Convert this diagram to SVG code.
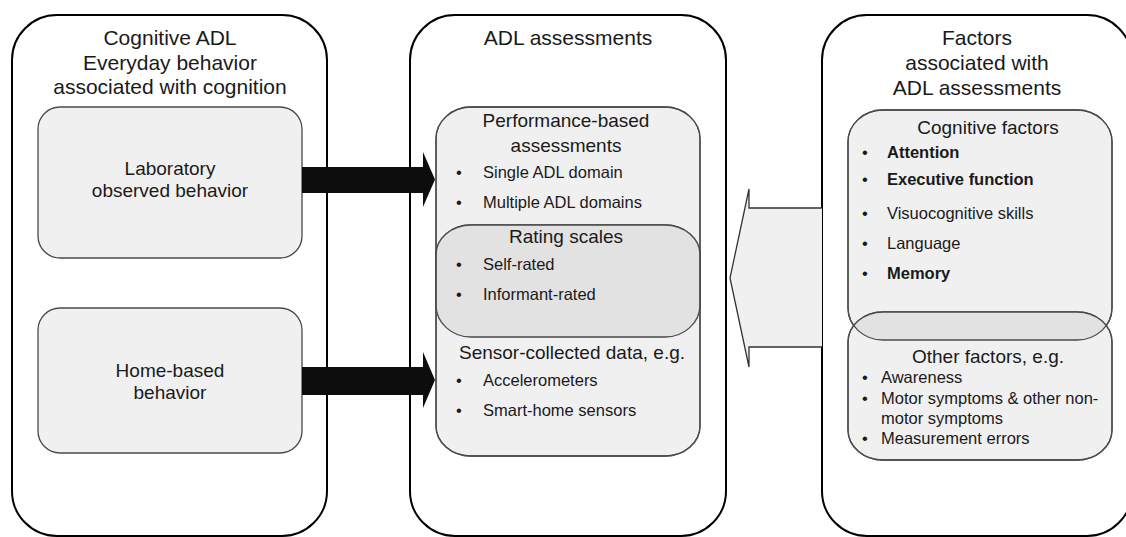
<svg xmlns="http://www.w3.org/2000/svg" width="1126" height="537" viewBox="0 0 1126 537">
<style>
.outer{fill:#fff;stroke:#000;stroke-width:2}
.inner{fill:#f0f0f0;stroke:#4a4a4a;stroke-width:1.3}
.edge{fill:none;stroke:#4a4a4a;stroke-width:1.3}
.ov{fill:#e2e2e2;stroke:none}
text{font-family:"Liberation Sans",Arial,sans-serif;fill:#1a1a1a}
.t{font-size:21px;text-anchor:middle}
.h{font-size:19px;text-anchor:middle}
.b{font-size:16.5px}
.bb{font-size:16.5px;font-weight:bold}
</style>
<defs>
<clipPath id="clipPerf"><rect x="436" y="107" width="264" height="230" rx="35" ry="32"/></clipPath>
<clipPath id="clipCog"><rect x="848" y="110" width="264" height="230" rx="35" ry="32"/></clipPath>
</defs>
<rect width="1126" height="537" fill="#fff"/>

<g id="cognitive-adl">
<rect class="outer" x="12" y="15" width="315" height="521" rx="45" ry="45"/>
<text class="t" x="170" y="45">Cognitive ADL</text>
<text class="t" x="170" y="70">Everyday behavior</text>
<text class="t" x="170" y="94">associated with cognition</text>
</g>
<g id="laboratory">
<rect class="inner" x="38" y="107" width="264" height="151" rx="22"/>
<text class="h" x="170" y="175">Laboratory</text>
<text class="h" x="170" y="197">observed behavior</text>
</g>
<g id="home-based">
<rect class="inner" x="38" y="308" width="264" height="145" rx="22"/>
<text class="h" x="170" y="377">Home-based</text>
<text class="h" x="170" y="399">behavior</text>
</g>

<g id="adl-assessments">
<rect class="outer" x="410" y="15" width="316" height="521" rx="45" ry="45"/>
<text class="t" x="568" y="45">ADL assessments</text>
</g>
<g id="performance-based">
<rect class="inner" x="436" y="107" width="264" height="230" rx="35" ry="32"/>
</g>
<g id="sensor-collected">
<rect class="inner" x="436" y="225" width="264" height="231" rx="35" ry="30"/>
</g>
<g id="rating-scales">
<rect class="ov" x="436" y="225" width="264" height="231" rx="35" ry="30" clip-path="url(#clipPerf)"/>
<rect class="edge" x="436" y="107" width="264" height="230" rx="35" ry="32"/>
<rect class="edge" x="436" y="225" width="264" height="231" rx="35" ry="30"/>
</g>
<g id="middle-texts">
<text class="h" x="566" y="127">Performance-based</text>
<text class="h" x="566" y="152">assessments</text>
<text class="b" x="456" y="178">•</text><text class="b" x="483" y="178">Single ADL domain</text>
<text class="b" x="456" y="208">•</text><text class="b" x="483" y="208">Multiple ADL domains</text>
<text class="h" x="566" y="243">Rating scales</text>
<text class="b" x="456" y="270">•</text><text class="b" x="483" y="270">Self-rated</text>
<text class="b" x="456" y="300">•</text><text class="b" x="483" y="300">Informant-rated</text>
<text class="h" x="572" y="359">Sensor-collected data, e.g.</text>
<text class="b" x="456" y="386">•</text><text class="b" x="483" y="386">Accelerometers</text>
<text class="b" x="456" y="416">•</text><text class="b" x="483" y="416">Smart-home sensors</text>
</g>

<g id="factors">
<rect class="outer" x="822" y="15" width="310" height="521" rx="45" ry="45"/>
<text class="t" x="977" y="45">Factors</text>
<text class="t" x="977" y="70">associated with</text>
<text class="t" x="977" y="95">ADL assessments</text>
</g>
<g id="cognitive-factors">
<rect class="inner" x="848" y="110" width="264" height="230" rx="35" ry="32"/>
</g>
<g id="other-factors">
<rect class="inner" x="848" y="312" width="264" height="148" rx="35" ry="30"/>
<rect class="ov" x="848" y="312" width="264" height="148" rx="35" ry="30" clip-path="url(#clipCog)"/>
<rect class="edge" x="848" y="110" width="264" height="230" rx="35" ry="32"/>
<rect class="edge" x="848" y="312" width="264" height="148" rx="35" ry="30"/>
</g>
<g id="right-texts">
<text class="h" x="988" y="134">Cognitive factors</text>
<text class="b" x="862" y="158">•</text><text class="bb" x="887" y="158">Attention</text>
<text class="b" x="862" y="185">•</text><text class="bb" x="887" y="185">Executive function</text>
<text class="b" x="862" y="219">•</text><text class="b" x="887" y="219">Visuocognitive skills</text>
<text class="b" x="862" y="249">•</text><text class="b" x="887" y="249">Language</text>
<text class="b" x="862" y="279">•</text><text class="bb" x="887" y="279">Memory</text>
<text class="h" x="988" y="363">Other factors, e.g.</text>
<text class="b" x="862" y="383">•</text><text class="b" x="881" y="383">Awareness</text>
<text class="b" x="862" y="404">•</text><text class="b" x="881" y="404">Motor symptoms &amp; other non-</text>
<text class="b" x="881" y="424">motor symptoms</text>
<text class="b" x="862" y="444">•</text><text class="b" x="881" y="444">Measurement errors</text>
</g>

<g id="connectors">
<polygon points="302,167 423,167 423,152 435,179.5 423,207 423,193 302,193" fill="#0d0d0d"/>
<polygon points="302,367 423,367 423,352 435,380 423,408 423,395 302,395" fill="#0d0d0d"/>
<polyline points="822,208 749,208 749,189 730,278 749,367 749,347 822,347" fill="#f0f0f0" stroke="#333" stroke-width="1.3"/>
</g>
</svg>
